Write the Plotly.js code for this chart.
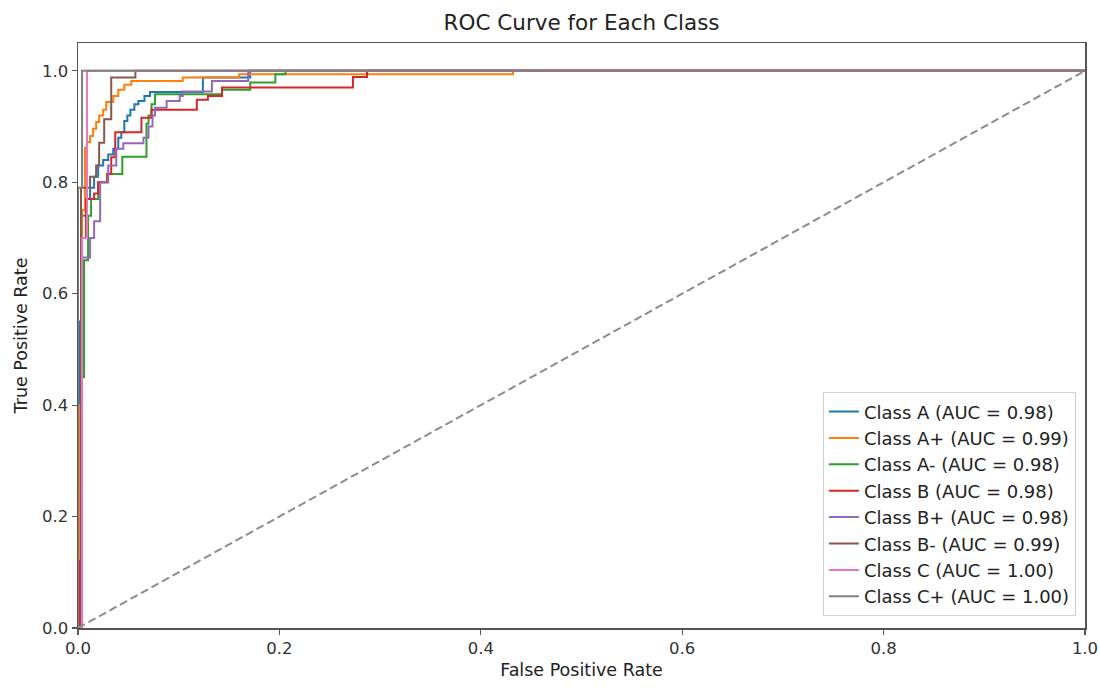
<!DOCTYPE html>
<html>
<head>
<meta charset="utf-8">
<script src="https://cdn.plot.ly/plotly-3.0.1.min.js"></script>
<style>html,body{margin:0;padding:0;background:#fff;}#chart{width:1100px;height:688px;}</style>
</head>
<body>
<div id="chart"></div>
<script>
// Class names and AUC values
const classNames = ["Class A", "Class A+", "Class A-", "Class B", "Class B+", "Class B-", "Class C", "Class C+"];
const aucValues = [0.98, 0.99, 0.98, 0.98, 0.98, 0.99, 1.00, 1.00];
const classColors = ["#1f77b4", "#ff7f0e", "#2ca02c", "#d62728", "#9467bd", "#8c564b", "#e377c2", "#7f7f7f"];

// ROC step points (FPR at which TPR jumps to the given value)
const fprA = [0, 0, 0.002, 0.004, 0.008, 0.012, 0.016, 0.020, 0.025, 0.030, 0.035, 0.040, 0.043, 0.046, 0.049, 0.052, 0.056, 0.060, 0.066, 0.0715, 0.124, 0.171, 1];
const tprA = [0, 0.10, 0.55, 0.74, 0.77, 0.79, 0.81, 0.83, 0.84, 0.85, 0.86, 0.88, 0.89, 0.91, 0.92, 0.93, 0.94, 0.946, 0.955, 0.962, 0.988, 1.0, 1.0];

const fprAplus = [0, 0.002, 0.004, 0.007, 0.009, 0.012, 0.015, 0.018, 0.021, 0.025, 0.028, 0.035, 0.040, 0.046, 0.053, 0.104, 0.160, 0.432, 1];
const tprAplus = [0, 0.40, 0.75, 0.862, 0.872, 0.883, 0.896, 0.908, 0.920, 0.930, 0.944, 0.955, 0.966, 0.975, 0.982, 0.988, 0.994, 1.0, 1.0];

const fprAminus = [0, 0.003, 0.006, 0.010, 0.013, 0.020, 0.029, 0.044, 0.068, 0.070, 0.073, 0.0765, 0.143, 0.171, 0.196, 0.206, 1];
const tprAminus = [0, 0.45, 0.66, 0.74, 0.77, 0.80, 0.815, 0.846, 0.905, 0.920, 0.940, 0.958, 0.966, 0.979, 0.994, 1.0, 1.0];

const fprB = [0, 0.002, 0.003, 0.008, 0.016, 0.020, 0.029, 0.033, 0.037, 0.063, 0.073, 0.118, 0.129, 0.143, 0.273, 0.287, 1];
const tprB = [0, 0.12, 0.70, 0.77, 0.78, 0.80, 0.815, 0.845, 0.89, 0.916, 0.93, 0.948, 0.955, 0.97, 0.989, 1.0, 1.0];

const fprBplus = [0, 0.004, 0.012, 0.016, 0.022, 0.030, 0.038, 0.045, 0.065, 0.070, 0.074, 0.0765, 0.088, 0.101, 0.104, 0.133, 0.169, 1];
const tprBplus = [0, 0.665, 0.70, 0.73, 0.80, 0.83, 0.86, 0.87, 0.88, 0.90, 0.92, 0.934, 0.946, 0.955, 0.963, 0.982, 1.0, 1.0];

const fprBminus = [0, 0.003, 0.012, 0.018, 0.021, 0.026, 0.033, 0.057, 1];
const tprBminus = [0, 0.79, 0.81, 0.83, 0.871, 0.913, 0.988, 1.0, 1.0];

const fprC = [0, 0.004, 0.009, 1];
const tprC = [0, 0.70, 1.0, 1.0];

const fprCplus = [0, 0, 0.004, 1];
const tprCplus = [0, 0.79, 1.0, 1.0];

const diagX = [0, 1];
const diagY = [0, 1];

const xTicks = [0, 0.2, 0.4, 0.6, 0.8, 1.0];
const yTicks = [0, 0.2, 0.4, 0.6, 0.8, 1.0];

const fprs = [fprA, fprAplus, fprAminus, fprB, fprBplus, fprBminus, fprC, fprCplus];
const tprs = [tprA, tprAplus, tprAminus, tprB, tprBplus, tprBminus, tprC, tprCplus];

const FONT = "DejaVu Sans, sans-serif";
const traces = classNames.map((name, i) => ({
  x: fprs[i],
  y: tprs[i],
  type: "scatter",
  mode: "lines",
  name: name + " (AUC = " + aucValues[i].toFixed(2) + ")",
  line: {color: classColors[i], width: 2, shape: "hv"}
}));
traces.push({
  x: diagX, y: diagY, type: "scatter", mode: "lines", showlegend: false,
  line: {color: "#8c8c8c", width: 2, dash: "8px,4px"}
});

const layout = {
  width: 1100, height: 688,
  margin: {l: 78, r: 15, t: 43, b: 60},
  paper_bgcolor: "#fff", plot_bgcolor: "#fff",
  font: {family: FONT, color: "#333", size: 16},
  title: {text: "ROC Curve for Each Class", font: {family: FONT, size: 21.5, color: "#222"}, x: 0.5287, xanchor: "center", y: 0.967, yanchor: "middle"},
  xaxis: {
    range: [0, 1], tickvals: xTicks, ticktext: xTicks.map(v => v.toFixed(1)),
    showgrid: false, zeroline: false, showline: true, mirror: true, linecolor: "#555", linewidth: 1.5,
    ticks: "outside", ticklen: 5, tickcolor: "#555", tickwidth: 1.2,
    tickfont: {size: 16.5, family: FONT, color: "#333"},
    title: {text: "False Positive Rate", font: {size: 17.5, family: FONT, color: "#222"}, standoff: 6}
  },
  yaxis: {
    range: [0, 1.05], tickvals: yTicks, ticktext: yTicks.map(v => v.toFixed(1)),
    showgrid: false, zeroline: false, showline: true, mirror: true, linecolor: "#555", linewidth: 1.5,
    ticks: "outside", ticklen: 5, tickcolor: "#555", tickwidth: 1.2,
    tickfont: {size: 16.5, family: FONT, color: "#333"},
    title: {text: "True Positive Rate", font: {size: 17.5, family: FONT, color: "#222"}, standoff: 10}
  },
  legend: {
    x: 0.991, xanchor: "right", y: 0.02, yanchor: "bottom",
    bgcolor: "rgba(255,255,255,0.85)", bordercolor: "#d0d0d0", borderwidth: 1,
    font: {size: 18, family: FONT, color: "#222"},
    tracegroupgap: 0
  },
  showlegend: true
};

Plotly.newPlot("chart", traces, layout, {displayModeBar: false, staticPlot: true});
</script>
</body>
</html>
